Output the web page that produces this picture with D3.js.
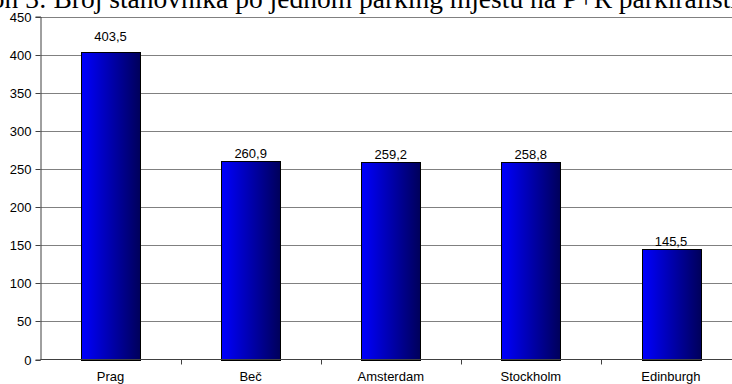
<!DOCTYPE html>
<html>
<head>
<meta charset="utf-8">
<script src="https://cdn.jsdelivr.net/npm/d3@7"></script>
<style>
html,body{margin:0;padding:0;background:#fff;}
svg{display:block;}
</style>
</head>
<body>
<svg id="chart" width="732" height="384"></svg>
<script>
const titleText = "Grafikon 3: Broj stanovnika po jednom parking mjestu na P+R parkiralištima";
const categories = ["Prag", "Beč", "Amsterdam", "Stockholm", "Edinburgh"];
const values = [403.5, 260.9, 259.2, 258.8, 145.5];
const valueLabels = ["403,5", "260,9", "259,2", "258,8", "145,5"];
const yTicks = [0, 50, 100, 150, 200, 250, 300, 350, 400, 450];

(function () {
const W = 732, H = 384;
const mLeft = 40.5, mRight = 741, mTop = 16.5, mBottom = 359.5;
const svg = d3.select("#chart");

const defs = svg.append("defs");
const grad = defs.append("linearGradient").attr("id", "barGrad")
  .attr("x1", "0%").attr("x2", "100%").attr("y1", "0%").attr("y2", "0%");
grad.append("stop").attr("offset", "0%").attr("stop-color", "#0000ff");
grad.append("stop").attr("offset", "100%").attr("stop-color", "#00005a");

const y = d3.scaleLinear().domain([0, 450]).range([mBottom, mTop]);
const x = d3.scaleBand().domain(categories).range([mLeft, mRight])
  .paddingInner(0.58).paddingOuter(0.29);
const xb = d3.scaleBand().domain(categories).range([mLeft, mRight]).padding(0);

// title (clipped at top, as in the reference)
svg.append("text").attr("x", -81).attr("y", 8)
  .attr("font-family", "Liberation Serif, Times New Roman, serif")
  .attr("font-size", 27.5).attr("fill", "#000")
  .text(titleText);

// gridlines
svg.append("g").selectAll("line").data(yTicks.filter(d => d > 0)).join("line")
  .attr("x1", mLeft).attr("x2", W)
  .attr("y1", d => Math.round(y(d)) + 0.5).attr("y2", d => Math.round(y(d)) + 0.5)
  .attr("stroke", "#808080").attr("stroke-width", 1);

// y axis
const yAxis = svg.append("g").attr("transform", `translate(${mLeft},0)`)
  .call(d3.axisLeft(y).tickValues(yTicks).tickSize(5).tickPadding(4).tickFormat(d3.format("d")));
yAxis.select(".domain").attr("stroke", "#404040");
yAxis.selectAll(".tick line").attr("stroke", "#404040");
yAxis.selectAll(".tick").attr("transform", d => `translate(0,${Math.round(y(d)) + 0.5})`);
yAxis.selectAll("text").attr("font-family", "Liberation Sans, Arial, sans-serif")
  .attr("font-size", 13).attr("fill", "#000").attr("dy", "0.36em");

// bars
const data = categories.map((c, i) => ({c, v: values[i], lab: valueLabels[i]}));
svg.append("g").selectAll("rect").data(data).join("rect")
  .attr("x", d => Math.round(x(d.c)) + 0.5)
  .attr("y", d => Math.round(y(d.v)) + 0.5)
  .attr("width", Math.round(x.bandwidth()))
  .attr("height", d => Math.round(mBottom) - Math.round(y(d.v)))
  .attr("fill", "url(#barGrad)")
  .attr("stroke", "#000").attr("stroke-width", 1);

// value labels
svg.append("g").selectAll("text").data(data).join("text")
  .attr("x", d => x(d.c) + x.bandwidth() / 2)
  .attr("y", d => y(d.v) - (d.v > 400 ? 11 : 3))
  .attr("text-anchor", "middle")
  .attr("font-family", "Liberation Sans, Arial, sans-serif")
  .attr("font-size", 13).attr("fill", "#000")
  .text(d => d.lab);

// x axis
const xAxis = svg.append("g").attr("transform", `translate(0,${mBottom})`);
xAxis.append("line").attr("x1", mLeft).attr("x2", W).attr("y1", 0).attr("y2", 0)
  .attr("stroke", "#404040");
xAxis.selectAll("line.tk").data(categories.slice(1)).join("line").attr("class", "tk")
  .attr("x1", d => Math.round(xb(d)) + 0.5).attr("x2", d => Math.round(xb(d)) + 0.5)
  .attr("y1", 0).attr("y2", 5).attr("stroke", "#404040");
xAxis.selectAll("text.cat").data(categories).join("text").attr("class", "cat")
  .attr("x", d => x(d) + x.bandwidth() / 2)
  .attr("y", 21)
  .attr("text-anchor", "middle")
  .attr("font-family", "Liberation Sans, Arial, sans-serif")
  .attr("font-size", 13).attr("fill", "#000")
  .text(d => d);
})();
</script>
</body>
</html>
